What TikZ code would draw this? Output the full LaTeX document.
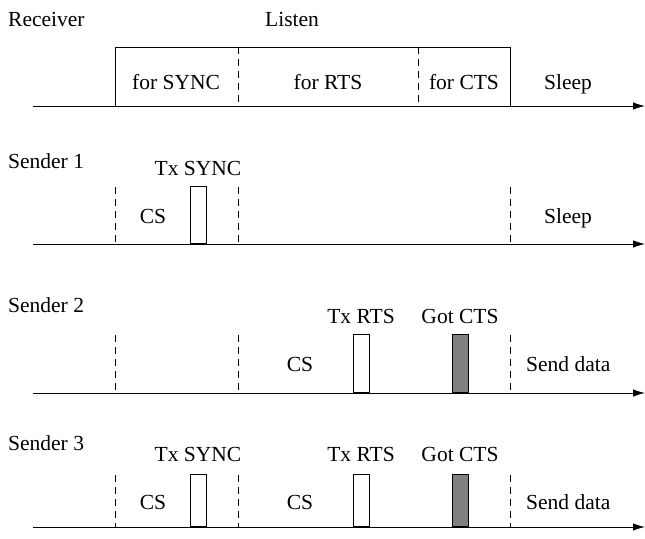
\documentclass[tikz,border=0pt]{standalone}
\usepackage{fontspec}
\setmainfont{Liberation Serif}
\usetikzlibrary{arrows.meta}
\begin{document}
\begin{tikzpicture}[x=1pt,y=-1pt,
  lbl/.style={font=\fontsize{21.5}{24}\selectfont, inner sep=0pt, anchor=base},
  axis/.style={line width=0.9pt, -{Latex[length=12pt,width=7.5pt]}},
  sep/.style={dashed, dash pattern=on 7pt off 5pt, line width=0.6pt},
  pulse/.style={draw, line width=0.9pt, fill=white},
  gotpulse/.style={draw, line width=0.9pt, fill=gray}]
\useasboundingbox (0,0) rectangle (645,538);

% Receiver
\node[lbl, anchor=base west] (rl) at (8,27) {Receiver};
\node[lbl, anchor=base west] (ll) at (265,27) {Listen};
\coordinate (r0) at (33,106);
\coordinate (r1) at (645,106);
\draw[axis] (r0) -- (r1);
\draw[line width=0.8pt] (115,106) |- (510,47) -- (510,106);
\draw[sep] (238,47) -- (238,106);
\draw[sep] (418,47) -- (418,106);
\node[lbl] (fs) at (176,89) {for SYNC};
\node[lbl] (fr) at (328,89) {for RTS};
\node[lbl] (fc) at (464,89) {for CTS};
\node[lbl] (sl) at (568,89) {Sleep};

% Sender 1
\node[lbl, anchor=base west] (s1) at (8,168) {Sender 1};
\draw[axis] (33,244) -- (645,244);
\foreach \x in {115,238,510} \draw[sep] (\x,187) -- (\x,244);
\node[pulse, minimum width=16pt, minimum height=57pt, anchor=south] (p1) at (198,244) {};
\node[lbl] (t1) at (198,175) {Tx SYNC};
\node[lbl] (c1) at (153,223) {CS};
\node[lbl] (sl1) at (568,223) {Sleep};

% Sender 2
\node[lbl, anchor=base west] (s2) at (8,312) {Sender 2};
\draw[axis] (33,393) -- (645,393);
\foreach \x in {115,238,510} \draw[sep] (\x,335) -- (\x,393);
\node[pulse, minimum width=16pt, minimum height=58pt, anchor=south] (p2) at (361,393) {};
\node[gotpulse, minimum width=16pt, minimum height=58pt, anchor=south] (g2) at (460,393) {};
\node[lbl] (t2) at (361,323) {Tx RTS};
\node[lbl] (gt2) at (460,323) {Got CTS};
\node[lbl] (c2) at (300,371) {CS};
\node[lbl, anchor=base west] (sd2) at (526,371) {Send data};

% Sender 3
\node[lbl, anchor=base west] (s3) at (8,450) {Sender 3};
\draw[axis] (33,527) -- (645,527);
\foreach \x in {115,238,510} \draw[sep] (\x,475) -- (\x,527);
\node[pulse, minimum width=16pt, minimum height=52pt, anchor=south] (p3a) at (198,527) {};
\node[pulse, minimum width=16pt, minimum height=52pt, anchor=south] (p3b) at (361,527) {};
\node[gotpulse, minimum width=16pt, minimum height=52pt, anchor=south] (g3) at (460,527) {};
\node[lbl] (t3a) at (198,461) {Tx SYNC};
\node[lbl] (t3b) at (361,461) {Tx RTS};
\node[lbl] (gt3) at (460,461) {Got CTS};
\node[lbl] (c3a) at (153,509) {CS};
\node[lbl] (c3b) at (300,509) {CS};
\node[lbl, anchor=base west] (sd3) at (526,509) {Send data};
\end{tikzpicture}
\end{document}
